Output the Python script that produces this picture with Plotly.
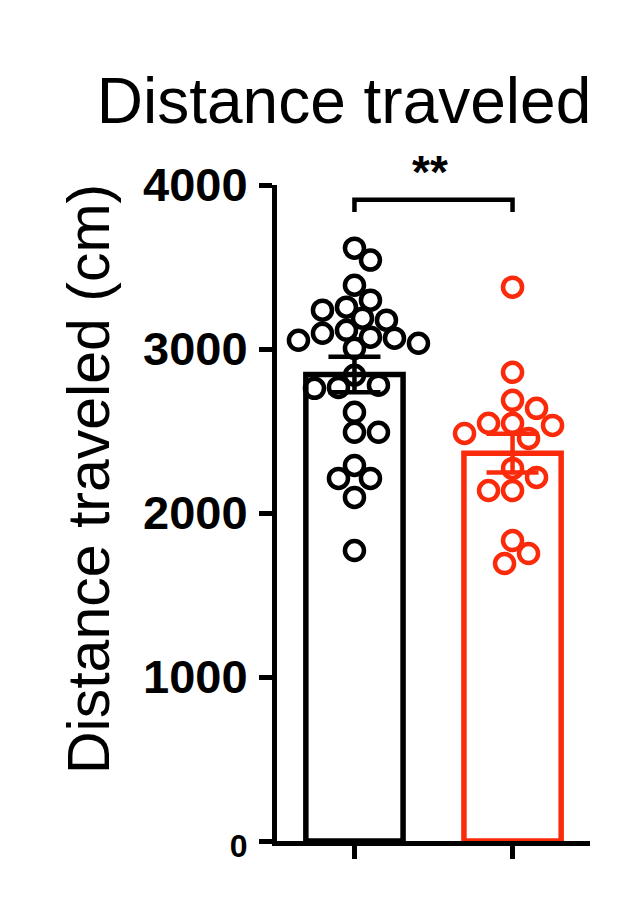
import plotly.graph_objects as go

# ---- data ----
groups = [0, 1]
group_labels = ["", ""]
ctrl_values = [3615, 3542, 3389, 3298, 3188, 3237, 3255, 3176, 3035, 3053, 3066, 3096,
               3072, 3114, 3004, 2840, 2766, 2760, 2779, 2614, 2492, 2492, 2211, 2211,
               2290, 2095, 1771]
treat_values = [3377, 2858, 2687, 2638, 2547, 2547, 2534, 2455, 2485, 2217, 2137, 2137,
                2272, 1832, 1692, 1753]
bar_means = [2845, 2365]
bar_sems = [108, 118]
y_ticks = [0, 1000, 2000, 3000, 4000]
sig_label = "**"
sig_y = 3910
sig_tip = 3835

BLACK = "#000000"
RED = "#FA2A0A"
FONT = "Liberation Sans, Arial, sans-serif"

W, H = 623, 897
ML, MR, MT, MB = 277, 33, 185, 56
XR = [-0.49, 1.49]
YR = [0, 4000]
px_per_x = (W - ML - MR) / (XR[1] - XR[0])
px_per_y = (H - MT - MB) / (YR[1] - YR[0])


def swarm(values, center, dmin=19.0, step=8.0):
    """Simple deterministic beeswarm: returns x positions in data units."""
    order = sorted(range(len(values)), key=lambda i: -values[i])
    placed = []
    xs = [center] * len(values)
    for i in order:
        yp = values[i] * px_per_y
        k = 0
        while True:
            m = (k + 1) // 2
            off = (m * step) * (1 if k % 2 == 1 else -1) if k else 0.0
            ok = all((off - px) ** 2 + (yp - py) ** 2 >= dmin ** 2 for px, py in placed)
            if ok:
                break
            k += 1
        placed.append((off, yp))
        xs[i] = center + off / px_per_x
    return xs


fig = go.Figure()

colors = [BLACK, RED]
for g, m, s, c in zip(groups, bar_means, bar_sems, colors):
    fig.add_trace(go.Bar(
        x=[g], y=[m], width=0.615,
        marker=dict(color="rgba(255,255,255,0)", line=dict(color=c, width=5.5)),
        error_y=dict(type="data", array=[s], visible=True, thickness=4.5, width=26, color=c),
        showlegend=False,
    ))

for vals, g, c in zip([ctrl_values, treat_values], groups, colors):
    fig.add_trace(go.Scatter(
        x=swarm(vals, g), y=vals, mode="markers",
        marker=dict(symbol="circle-open", size=19, color=c, line=dict(width=4.5, color=c)),
        showlegend=False, cliponaxis=False,
    ))

# significance bracket
fig.add_shape(type="path",
              path=f"M {groups[0]},{sig_tip} L {groups[0]},{sig_y} L {groups[1]},{sig_y} L {groups[1]},{sig_tip}",
              xref="x", yref="y", line=dict(color=BLACK, width=4.5))
fig.add_annotation(x=(groups[0] + groups[1]) / 2 - 0.02, y=(841 - 172) / (841 - 185),
                   xref="x", yref="paper",
                   text=f"<b>{sig_label}</b>", showarrow=False,
                   font=dict(family=FONT, size=46, color=BLACK), yanchor="middle")

# y-axis title as rotated annotation
fig.add_annotation(x=(89 - ML) / (W - ML - MR), y=(841 - 479) / (841 - 185),
                   xref="paper", yref="paper", text="Distance traveled (cm)",
                   textangle=-90, showarrow=False, xanchor="center", yanchor="middle",
                   font=dict(family=FONT, size=59, color=BLACK))

tick_text = [("<span style='font-size:32px'>%d</span>" % v) if v == 0 else str(v) for v in y_ticks]

fig.update_layout(
    width=W, height=H,
    margin=dict(l=ML, r=MR, t=MT, b=MB, pad=0),
    paper_bgcolor="white", plot_bgcolor="white",
    barmode="overlay",
    font=dict(family=FONT, color=BLACK),
    title=dict(text="Distance traveled", x=344 / W, xanchor="center",
               y=1 - 101 / H, yanchor="middle", yref="container",
               font=dict(family=FONT, size=64, color=BLACK)),
    xaxis=dict(range=XR, tickvals=groups, ticktext=group_labels, showgrid=False,
               zeroline=False, showline=True, linecolor=BLACK, linewidth=5,
               ticks="outside", ticklen=13, tickwidth=4.5, tickcolor=BLACK),
    yaxis=dict(range=YR, tickvals=y_ticks, ticktext=tick_text, showgrid=False,
               zeroline=False, showline=True, linecolor=BLACK, linewidth=5,
               ticks="outside", ticklen=13, tickwidth=4.5, tickcolor=BLACK,
               ticklabelstandoff=2,
               tickfont=dict(family=FONT, size=47, color=BLACK, weight="bold")),
)

fig.write_html("out.html", config={"displayModeBar": False},
               post_script="document.body.style.margin='0';")
